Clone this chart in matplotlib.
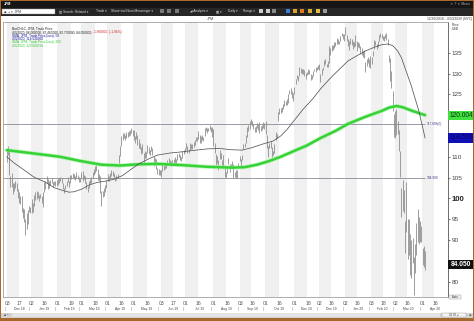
import numpy as np
import pandas as pd
import matplotlib
matplotlib.use('Agg')
import matplotlib.pyplot as plt
from matplotlib.patches import Rectangle
from matplotlib.transforms import blended_transform_factory

plt.rcParams['font.family'] = ['Liberation Sans', 'DejaVu Sans']

W, H = 474, 321

# NYSE closures inside the window
holidays = ['2018-12-05', '2018-12-25', '2019-01-01', '2019-01-21', '2019-02-18',
            '2019-04-19', '2019-05-27', '2019-07-04', '2019-09-02', '2019-11-28',
            '2019-12-25', '2020-01-01', '2020-01-20', '2020-02-17', '2020-04-10']

# daily highs / lows, month by month
nov18_hi = [111.8]
nov18_lo = [108.8]
dec18_hi = [112.7, 111.6, 105.5, 106.1, 103.7, 103.8, 104.3, 103.6, 102.3, 101.5,
            100.6, 100.5, 97.8, 97.5, 95.0, 96.5, 97.2, 98.2, 98.0]
dec18_lo = [110.4, 105.6, 102.7, 102.7, 101.0, 101.8, 102.6, 101.9, 100.2, 98.8,
            98.6, 96.8, 95.3, 94.3, 91.1, 92.6, 93.9, 96.8, 96.6]
jan19_hi = [99.8, 99.0, 100.8, 101.5, 101.7, 101.6, 100.9, 101.0, 100.6, 101.6,
            103.9, 104.1, 105.3, 104.6, 104.2, 104.5, 104.9, 104.0, 104.3, 104.3, 104.4]
jan19_lo = [96.6, 96.8, 98.2, 99.6, 99.9, 100.0, 99.5, 100.0, 99.0, 97.9,
            101.6, 102.3, 103.7, 102.2, 102.6, 103.3, 103.6, 102.8, 103.2, 102.9, 103.1]
feb19_hi = [104.8, 104.8, 105.1, 104.8, 103.8, 102.6, 103.3, 104.2, 105.2, 104.3,
            105.6, 105.7, 106.0, 105.8, 105.5, 106.4, 105.6, 105.1, 105.0]
feb19_lo = [103.3, 103.7, 104.1, 103.8, 102.2, 101.4, 102.3, 103.1, 103.9, 102.7,
            103.8, 104.7, 104.9, 104.6, 104.5, 105.0, 104.6, 104.0, 104.0]
mar19_hi = [106.3, 106.6, 105.7, 105.3, 104.0, 102.9, 104.3, 104.7, 105.2, 106.4,
            107.0, 107.9, 108.1, 107.0, 105.8, 105.3, 101.9, 101.8, 102.4, 103.3, 104.5]
mar19_lo = [104.9, 104.3, 104.6, 103.7, 102.3, 101.5, 102.5, 103.4, 103.8, 104.8,
            105.7, 106.0, 106.5, 104.5, 104.2, 101.3, 98.1, 100.3, 100.6, 101.5, 102.6]
apr19_hi = [105.8, 105.4, 106.2, 106.8, 106.5, 106.1, 105.2, 105.6, 105.9, 110.5,
            112.6, 114.9, 115.6, 115.8, 115.3, 116.0, 116.0, 116.3, 116.5, 116.9, 116.4]
apr19_lo = [104.3, 104.2, 104.6, 105.4, 105.3, 104.9, 104.1, 104.4, 104.8, 108.5,
            110.2, 112.6, 114.0, 114.5, 114.0, 114.6, 114.7, 115.0, 115.2, 115.8, 115.1]
may19_hi = [116.4, 114.9, 115.9, 115.2, 114.2, 113.4, 112.4, 113.0, 110.9, 111.3, 111.2,
            112.9, 112.4, 111.7, 112.6, 112.2, 110.3, 109.6, 109.5, 107.4, 107.1, 106.8]
may19_lo = [114.1, 113.4, 114.2, 112.9, 112.0, 111.8, 110.6, 111.0, 108.3, 109.6, 109.8,
            111.0, 110.6, 110.4, 111.3, 110.5, 107.9, 108.5, 107.0, 105.8, 105.7, 105.6]
jun19_hi = [106.8, 108.2, 108.0, 108.0, 108.6, 109.2, 109.6, 109.2, 108.9, 109.3,
            109.4, 110.0, 109.4, 110.6, 111.0, 110.4, 110.0, 111.3, 111.7, 112.0]
jun19_lo = [105.1, 106.6, 106.9, 107.0, 107.2, 108.1, 108.6, 108.3, 107.9, 108.2,
            108.3, 108.5, 108.2, 109.2, 109.9, 109.3, 108.9, 109.7, 110.7, 111.2]
jul19_hi = [113.2, 112.6, 111.9, 113.3, 113.0, 113.0, 113.5, 114.1, 114.8, 114.7, 116.2,
            115.2, 114.9, 115.2, 114.8, 116.9, 117.2, 116.8, 117.0, 117.7, 117.1, 117.2]
jul19_lo = [111.9, 110.9, 110.8, 111.6, 111.8, 111.9, 112.4, 112.9, 113.8, 113.9, 114.2,
            113.3, 113.2, 114.0, 113.8, 115.0, 116.2, 115.8, 116.1, 116.4, 116.0, 114.8]
aug19_hi = [116.6, 113.2, 110.7, 110.1, 109.3, 111.6, 111.0, 109.2, 110.5, 107.5, 106.3,
            107.9, 109.6, 108.3, 108.2, 108.9, 108.3, 106.3, 106.9, 106.9, 108.5, 110.3]
aug19_lo = [112.5, 111.0, 108.1, 108.6, 106.8, 109.5, 109.5, 107.6, 107.4, 105.1, 104.9,
            106.1, 108.3, 106.3, 107.3, 107.4, 104.9, 105.1, 104.9, 105.0, 107.5, 109.0]
sep19_hi = [109.4, 110.5, 113.0, 113.3, 115.3, 117.2, 117.6, 118.5, 119.0, 118.5,
            117.9, 117.2, 117.3, 118.2, 117.9, 118.3, 117.5, 117.6, 118.3, 118.0]
sep19_lo = [107.9, 109.2, 111.8, 112.3, 113.3, 114.7, 116.3, 116.7, 117.8, 117.3,
            116.6, 115.9, 115.9, 116.8, 116.5, 115.6, 116.2, 116.4, 116.8, 116.7]
oct19_hi = [118.7, 115.3, 112.6, 113.3, 113.7, 112.4, 111.5, 113.0, 115.9, 115.4, 120.8, 121.6,
            121.8, 121.9, 122.6, 123.6, 123.5, 123.8, 125.0, 126.0, 126.5, 125.8, 125.3]
oct19_lo = [115.4, 112.0, 109.9, 112.0, 112.1, 110.0, 110.4, 110.9, 114.0, 114.5, 118.5, 120.2,
            120.5, 120.7, 121.5, 122.2, 122.4, 122.5, 123.0, 125.0, 125.1, 124.1, 123.5]
nov19_hi = [126.7, 128.7, 129.7, 129.4, 131.6, 131.3, 131.0, 131.2, 130.8, 130.1,
            130.3, 131.0, 130.9, 129.9, 129.6, 130.7, 131.1, 131.5, 131.6, 132.1]
nov19_lo = [125.1, 127.6, 128.6, 128.3, 129.5, 130.2, 130.0, 129.9, 129.4, 128.6,
            129.6, 129.8, 129.8, 128.5, 128.6, 129.3, 130.5, 130.3, 130.8, 131.0]
dec19_hi = [132.4, 129.9, 131.1, 131.6, 133.2, 133.4, 132.4, 132.9, 136.5, 136.2, 136.9,
            136.8, 137.5, 137.6, 138.5, 138.2, 137.8, 139.1, 139.8, 139.5, 139.6]
dec19_lo = [130.9, 128.0, 129.7, 130.8, 131.9, 132.2, 131.5, 131.6, 132.5, 134.4, 135.5,
            135.6, 136.2, 136.6, 137.1, 137.2, 137.2, 137.8, 138.9, 138.2, 137.9]
jan20_hi = [141.1, 139.2, 138.3, 137.7, 138.6, 138.2, 137.9, 137.6, 139.3, 137.8, 137.6,
            137.4, 136.6, 136.1, 135.4, 135.6, 132.8, 133.6, 134.0, 133.6, 134.1]
jan20_lo = [139.3, 137.7, 136.6, 135.6, 137.0, 136.9, 135.8, 136.3, 136.7, 135.5, 136.4,
            136.2, 134.6, 134.4, 133.9, 133.8, 130.3, 131.8, 132.6, 131.6, 131.3]
feb20_hi = [133.9, 135.4, 138.0, 137.9, 137.1, 137.9, 139.2, 139.7, 139.5, 139.0,
            138.9, 139.6, 139.8, 138.2, 134.4, 133.8, 130.5, 125.8, 120.2]
feb20_lo = [132.3, 134.2, 135.9, 136.9, 135.9, 136.3, 137.9, 138.8, 138.6, 138.1,
            137.8, 138.6, 138.1, 136.8, 132.7, 128.3, 126.6, 121.0, 114.7]
mar20_hi = [121.0, 121.5, 118.6, 116.5, 111.5, 102.5, 104.5, 102.0, 94.5, 104.0, 95.0,
            95.0, 91.5, 90.0, 90.5, 86.0, 89.0, 94.0, 97.5, 95.5, 94.5, 93.5]
mar20_lo = [114.5, 115.3, 115.5, 111.5, 105.2, 95.5, 97.0, 96.5, 87.0, 92.0, 85.5,
            86.5, 81.5, 81.0, 84.5, 76.9, 82.0, 86.5, 89.5, 89.0, 89.5, 89.5]
apr20_hi = [88.0, 88.5, 87.46]
apr20_lo = [84.0, 83.5, 82.77]

# moving averages
sma50_dates = ['2018-11-30', '2018-12-11', '2018-12-21', '2019-01-04', '2019-01-17',
               '2019-01-29', '2019-02-07', '2019-02-14', '2019-02-21', '2019-03-01',
               '2019-03-11', '2019-03-19', '2019-03-29', '2019-04-08', '2019-04-17',
               '2019-04-26', '2019-05-07', '2019-05-17', '2019-05-29', '2019-06-12',
               '2019-06-26', '2019-07-12', '2019-07-25', '2019-08-08', '2019-08-21',
               '2019-09-04', '2019-09-16', '2019-09-27', '2019-10-09', '2019-10-17',
               '2019-10-24', '2019-10-31', '2019-11-12', '2019-11-22', '2019-12-03',
               '2019-12-12', '2019-12-19', '2020-01-06', '2020-01-16', '2020-01-27',
               '2020-02-06', '2020-02-13', '2020-02-21', '2020-02-27', '2020-03-04',
               '2020-03-09', '2020-03-19', '2020-03-27', '2020-04-03']
sma50_vals = [110.0, 108.5, 106.8, 105.1, 103.9,
              102.6, 101.9, 101.5, 101.6, 102.2,
              103.2, 103.8, 104.2, 104.6, 105.5,
              106.8, 108.3, 109.5, 110.4, 110.9,
              111.2, 111.6, 111.9, 112.0, 111.7,
              111.6, 112.2, 113.1, 113.8, 115.0,
              116.5, 118.4, 121.4, 124.0, 126.3,
              128.6, 130.1, 133.0, 134.4, 135.4,
              136.4, 136.9, 137.1, 136.7, 135.4,
              133.8, 127.0, 121.0, 114.526]
sma200_dates = ['2018-11-30', '2018-12-31', '2019-02-05', '2019-02-28', '2019-03-25',
                '2019-04-15', '2019-05-07', '2019-05-29', '2019-06-26', '2019-07-25',
                '2019-08-23', '2019-09-06', '2019-09-20', '2019-10-03', '2019-10-17',
                '2019-10-31', '2019-11-15', '2019-12-03', '2019-12-19', '2020-01-06',
                '2020-01-27', '2020-02-13', '2020-02-24', '2020-03-03', '2020-03-10',
                '2020-03-20', '2020-04-03']
sma200_vals = [111.6, 110.9, 110.0, 109.0, 108.1,
               107.9, 108.2, 108.3, 108.0, 107.6,
               107.4, 107.5, 108.1, 108.9, 110.0,
               111.3, 112.7, 114.5, 116.2, 117.9,
               119.6, 121.0, 121.8, 122.2, 121.9,
               121.0, 120.005]

levels = [117.898, 104.980]
level_labels = ['117.898(0)', '104.980']
yticks = list(range(80, 140, 5))
hidden_ticks = [85, 115, 120]   # covered by the price tags

highs = (nov18_hi + dec18_hi + jan19_hi + feb19_hi + mar19_hi + apr19_hi + may19_hi +
         jun19_hi + jul19_hi + aug19_hi + sep19_hi + oct19_hi + nov19_hi + dec19_hi +
         jan20_hi + feb20_hi + mar20_hi + apr20_hi)
lows = (nov18_lo + dec18_lo + jan19_lo + feb19_lo + mar19_lo + apr19_lo + may19_lo +
        jun19_lo + jul19_lo + aug19_lo + sep19_lo + oct19_lo + nov19_lo + dec19_lo +
        jan20_lo + feb20_lo + mar20_lo + apr20_lo)

days = pd.bdate_range('2018-11-30', '2020-05-08')
days = days[~days.isin(pd.to_datetime(holidays))]


def pos(d):
    return int(days.searchsorted(pd.Timestamp(d)))


def ix(p):
    # screen pixel -> trading-day index (Dec 3 2018 sits at x=8)
    return 1 + (p - 8) / 1.245


fig = plt.figure(figsize=(W / 100, H / 100), dpi=100)
fig.patch.set_facecolor('white')


def box(x0, y0, x1, y1, **kw):
    fig.add_artist(Rectangle((x0 / W, 1 - y1 / H), (x1 - x0) / W, (y1 - y0) / H,
                             transform=fig.transFigure, **kw))


def ftext(x, y, s, **kw):
    return fig.text(x / W, 1 - y / H, s, **kw)


# window chrome
box(0, 0, W, 1.2, fc='#a8692e', ec='none')
box(0, 1.2, W, 7.5, fc='#161616', ec='none')
box(0, 7.5, W, 15.5, fc='#262626', ec='none')
box(2, 8.7, 55, 13.8, fc='white', ec='#888888', lw=0.3)
ftext(4, 4.3, 'JPM', fontsize=2.6, color='white', va='center', weight='bold')
ftext(470, 4.3, '\u2197  ?  \u25be  Menu', fontsize=2.3, color='#bbbbbb', va='center', ha='right')
ftext(4, 11.3, '\u25c6  \u25cb \u25be  JPM', fontsize=2.3, color='#333333', va='center')
toolbar = [(59, '\u25a4 Search: Related \u25be'), (96, 'Trade \u25be'),
           (111, 'Share via Eikon Messenger \u25be'), (190, '\u25e2 Analysis \u25be'),
           (216, '\u25a6 \u25be'), (228, 'Daily \u25be'), (243, 'Range \u25be')]
for x0, s in toolbar:
    ftext(x0, 11.3, s, fontsize=2.3, color='#dddddd', va='center')
for x0, c in [(160, '#777777'), (167, '#777777'), (175, '#777777'), (259, '#cccccc'),
              (266, '#cccccc'), (272, '#888888'), (286, '#3d7fd6'), (293, '#e0a020'),
              (300, '#e07a20'), (308, '#d9b030'), (316, '#e0c040'), (323, '#999999')]:
    box(x0, 9.3, x0 + 4, 13.3, fc=c, ec='none')
box(0, 317.5, W, H, fc='#a8692e', ec='none')
box(0, 0, 1, H, fc='#a8692e', ec='none')
box(W - 1, 0, W, H, fc='#a8692e', ec='none')

ftext(211, 19, 'JPM', fontsize=2.6, color='#333333', va='center', ha='center')
ftext(472, 19, '11/30/2018 - 4/30/2020 (NYC)', fontsize=2.4, color='#444444',
      va='center', ha='right')
ftext(452, 24.5, 'Price', fontsize=2.4, color='#333333', va='center')
ftext(452, 28.5, 'USD', fontsize=2.4, color='#333333', va='center')

# price pane
ax = fig.add_axes([3 / W, 1 - 297 / H, 445 / W, 275 / H])
ax.set_xlim(ix(3), ix(448))
ax.set_ylim(76.33, 142.37)
ax.set_facecolor('white')

months = pd.period_range('2018-12', '2020-04', freq='M')
for m in months:
    a = pos(m.start_time)
    b = pos(m.start_time + pd.Timedelta(days=15))
    ax.axvspan(a - 0.5, b - 0.5, color='#f0f0f0', lw=0, zorder=0)

x = np.arange(len(highs))
ax.vlines(x, lows, highs, color='#8e8e8e', lw=0.6, zorder=2)

s50x = [pos(d) for d in sma50_dates]
s200x = [pos(d) for d in sma200_dates]
ax.plot(s200x, sma200_vals, color='#9cf09c', lw=3.0, alpha=0.6, zorder=3,
        solid_capstyle='round', solid_joinstyle='round')
ax.plot(s200x, sma200_vals, color='#36d236', lw=1.8, zorder=3,
        solid_capstyle='round', solid_joinstyle='round')
ax.plot(s50x, sma50_vals, color='#555555', lw=0.55, zorder=4, solid_joinstyle='round')

for lev, lab in zip(levels, level_labels):
    ax.hlines(lev, ix(3), ix(425), color='#8a8a98', lw=0.6, zorder=1)
    ax.text(ix(427), lev, lab, fontsize=2.3, color='#3c3c8c', va='center', ha='left')

for side in ['left', 'top', 'bottom']:
    ax.spines[side].set_color('#a0a0a0')
    ax.spines[side].set_linewidth(0.6)
ax.spines['right'].set_color('#555555')
ax.spines['right'].set_linewidth(0.6)
ax.set_xticks([])
ax.yaxis.tick_right()
ax.set_yticks(yticks, labels=['' if v in hidden_ticks else str(v) for v in yticks])
ax.tick_params(axis='y', length=1.6, width=0.5, pad=1.0, labelsize=4.6,
               colors='#444444')
for lab in ax.get_yticklabels():
    if lab.get_text() == '100':
        lab.set_fontweight('bold')
        lab.set_fontsize(5.6)
        lab.set_color('#222222')

# price tags on the axis
tr = blended_transform_factory(ax.transAxes, ax.transData)
tag_w = 26 / 445
for val, fc, tc, txt, bold in [(120.004, '#3fe03f', '#0a3a0a', '120.004', False),
                               (114.526, '#1010b4', '#08086a', '114.526', False),
                               (84.05, '#111111', 'white', '84.050', True)]:
    ax.add_patch(Rectangle((1.0, val - 1.1), tag_w, 2.2, transform=tr, fc=fc,
                           ec='none', clip_on=False, zorder=6))
    ax.text(1.0 + tag_w / 2, val, txt, transform=tr, fontsize=4.8, color=tc,
            ha='center', va='center', weight='bold' if bold else 'normal',
            clip_on=False, zorder=7)
box(449, 294.5, 461, 299, fc='#eeeeee', ec='#999999', lw=0.3)
ftext(455, 296.8, 'Auto', fontsize=2.0, color='#333333', va='center', ha='center')

# date axis
bt = blended_transform_factory(ax.transData, ax.transAxes)
for m in months:
    for d0 in (0, 15):
        p = pos(m.start_time + pd.Timedelta(days=d0))
        ax.text(p, -0.022, f'{days[p].day:02d}', transform=bt, fontsize=3.7,
                color='#555555', ha='center', va='center', clip_on=False)
    a = pos(m.start_time)
    b = pos((m + 1).start_time)
    ax.text((a + b) / 2 - 0.5, -0.044, m.strftime('%b %y'), transform=bt,
            fontsize=2.4, color='#444444', ha='center', va='center', clip_on=False)
    ax.text(a - 2, -0.044, '|', transform=bt, fontsize=2.4, color='#666666',
            ha='center', va='center', clip_on=False)

# scroll bar
box(1, 312.5, 473, 317.5, fc='#d2d2d2', ec='none')
box(12, 313.3, 440, 316.7, fc='#e4e4e4', ec='none')
ftext(3, 315, '\u25c4 \u2039', fontsize=2.4, color='#222222', va='center')
box(442, 313, 466, 317, fc='#f4f4f4', ec='#999999', lw=0.3)
ftext(454, 315, '01 Of  \u25b8', fontsize=2.0, color='#333333', va='center', ha='center')
ftext(472, 315, '\u25ba', fontsize=2.4, color='#222222', va='center', ha='right')

# legend block
ftext(12, 29, 'BarOHLC, JPM, Trade Price', fontsize=2.3, color='#222222', va='center')
t2 = ftext(12, 32.3, '4/3/2020, 86.000000, 87.460000, 82.770000, 84.050000,',
           fontsize=2.3, color='#222222', va='center')
ax.annotate(' -1.660000, (-1.94%)', xy=(1, 0.5), xycoords=t2, fontsize=2.3,
            color='#d42020', va='center', ha='left', annotation_clip=False)
ftext(12, 35.7, 'SMA, JPM, Trade Price(Last), 50', fontsize=2.3, color='#1c1ca0', va='center')
ftext(12, 39, '4/3/2020, 114.526260', fontsize=2.3, color='#1c1ca0', va='center')
ftext(12, 42.3, 'SMA, JPM, Trade Price(Last), 200', fontsize=2.3, color='#33cc33', va='center')
ftext(12, 45.7, '4/3/2020, 120.004756', fontsize=2.3, color='#33cc33', va='center')

fig.savefig('out.png', dpi=100)
